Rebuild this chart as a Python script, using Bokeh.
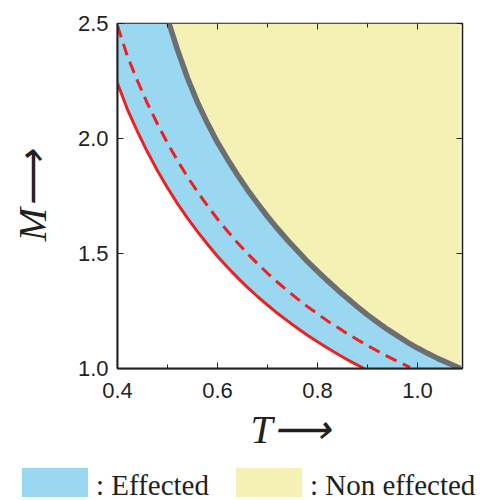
from bokeh.plotting import figure
from bokeh.layouts import column
from bokeh.models import LinearAxis, FixedTicker, NumeralTickFormatter, Range1d, Div
from bokeh.embed import file_html
from bokeh.resources import INLINE

# axis limits / ticks
T_MIN, T_MAX = 0.4, 1.09
M_MIN, M_MAX = 1.0, 2.5
x_ticks = [0.4, 0.6, 0.8, 1.0]
x_minor = [0.5, 0.7, 0.9]
y_ticks = [1.0, 1.5, 2.0, 2.5]

# gray boundary (effected / non effected)
gray_T = [0.503, 0.52, 0.54, 0.56, 0.58, 0.60, 0.62, 0.64, 0.66, 0.68, 0.70, 0.72,
          0.74, 0.76, 0.78, 0.80, 0.82, 0.84, 0.86, 0.88, 0.90, 0.92, 0.94, 0.96,
          0.98, 1.00, 1.02, 1.04, 1.06, 1.086]
gray_M = [2.500, 2.385, 2.263, 2.157, 2.066, 1.983, 1.910, 1.841, 1.777, 1.718,
          1.661, 1.608, 1.558, 1.511, 1.465, 1.423, 1.382, 1.342, 1.305, 1.268,
          1.233, 1.201, 1.170, 1.142, 1.114, 1.089, 1.066, 1.044, 1.025, 1.000]

# red solid curve
red_T = [0.40, 0.42, 0.44, 0.46, 0.48, 0.50, 0.52, 0.54, 0.56, 0.58, 0.60, 0.62,
         0.64, 0.66, 0.68, 0.70, 0.72, 0.74, 0.76, 0.78, 0.80, 0.82, 0.84, 0.86,
         0.88, 0.893]
red_M = [2.240, 2.126, 2.030, 1.941, 1.860, 1.786, 1.717, 1.654, 1.595, 1.540,
         1.488, 1.440, 1.395, 1.353, 1.313, 1.276, 1.240, 1.207, 1.175, 1.145,
         1.116, 1.089, 1.063, 1.038, 1.015, 1.000]

# red dashed curve
dash_T = [0.40, 0.42, 0.44, 0.46, 0.48, 0.50, 0.52, 0.54, 0.56, 0.58, 0.60, 0.62,
          0.64, 0.66, 0.68, 0.70, 0.72, 0.74, 0.76, 0.78, 0.80, 0.82, 0.84, 0.86,
          0.88, 0.90, 0.92, 0.94, 0.96, 0.985]
dash_M = [2.490, 2.357, 2.250, 2.152, 2.063, 1.980, 1.904, 1.833, 1.768, 1.707,
          1.650, 1.597, 1.547, 1.500, 1.456, 1.414, 1.375, 1.338, 1.303, 1.269,
          1.238, 1.207, 1.179, 1.151, 1.125, 1.100, 1.076, 1.053, 1.031, 1.005]

# legend
legend_labels = [": Effected", ": Non effected"]

BLUE = "#99D8F0"
YELLOW = "#F5F1B4"
GRAY = "#6D6E71"
RED = "#ED2024"
INK = "#231F20"
legend_colors = [BLUE, YELLOW]

FONT = "Liberation Sans"
SERIF = "Liberation Serif"

p = figure(frame_width=345, frame_height=345,
           min_border_left=117, min_border_right=26, min_border_top=23,
           min_border_bottom=95,
           x_range=Range1d(T_MIN, T_MAX), y_range=Range1d(M_MIN, M_MAX),
           output_backend="svg", toolbar_location=None)
p.xgrid.visible = False
p.ygrid.visible = False
p.background_fill_color = "white"
p.border_fill_color = "white"
p.outline_line_color = INK
p.outline_line_width = 1.5
p.outline_line_alpha = 1.0

# non effected region (above gray curve)
p.varea(x=gray_T, y1=gray_M, y2=M_MAX, fill_color=YELLOW)
# effected region (below gray curve), then white below the red solid curve
p.patch(x=[T_MIN] + gray_T + [T_MIN], y=[M_MAX] + gray_M + [M_MIN],
        fill_color=BLUE, line_color=None)
p.patch(x=red_T + [T_MIN], y=red_M + [M_MIN], fill_color="white", line_color=None)

p.line(dash_T, dash_M, line_color=RED, line_width=3, line_dash="12 7")
p.line(red_T, red_M, line_color=RED, line_width=3)
p.line(gray_T, gray_M, line_color=GRAY, line_width=5.5)

xa = p.xaxis[0]
xa.ticker = FixedTicker(ticks=x_ticks, minor_ticks=x_minor)
xa.formatter = NumeralTickFormatter(format="0.0")
ya = p.yaxis[0]
ya.ticker = FixedTicker(ticks=y_ticks, minor_ticks=[])
ya.formatter = NumeralTickFormatter(format="0.0")

for ax in (xa, ya):
    ax.axis_line_color = INK
    ax.axis_line_width = 2
    ax.major_tick_in = 6
    ax.major_tick_out = 0
    ax.minor_tick_in = 4
    ax.minor_tick_out = 0
    ax.major_tick_line_color = INK
    ax.minor_tick_line_color = INK
    ax.major_label_text_font = FONT
    ax.major_label_text_font_size = "22px"
    ax.major_label_text_color = INK
    ax.axis_label_text_font = SERIF
    ax.axis_label_text_font_style = "italic"
    ax.axis_label_text_font_size = "40px"
    ax.axis_label_text_color = INK

xa.axis_label = "T\u27f6"
ya.axis_label = "M\u27f6"
xa.major_label_standoff = 14
ya.major_label_standoff = 9
xa.axis_label_standoff = 6
ya.axis_label_standoff = 20

for loc, tick, minor in (("above", x_ticks, x_minor), ("right", y_ticks, [])):
    a = LinearAxis(ticker=FixedTicker(ticks=tick, minor_ticks=minor))
    a.axis_line_color = None
    a.major_tick_in = 6
    a.major_tick_out = 0
    a.minor_tick_in = 4
    a.minor_tick_out = 0
    a.major_tick_line_color = INK
    a.minor_tick_line_color = INK
    a.major_label_overrides = {t: "" for t in tick}
    a.major_label_standoff = 0
    p.add_layout(a, loc)

# legend strip below the chart (HTML)
box_left = [22, 236]
parts = []
for lbl, col, bx in zip(legend_labels, legend_colors, box_left):
    parts.append(
        f'<div style="position:absolute;left:{bx}px;top:5px;width:66px;height:29px;'
        f'background:{col};"></div>'
        f'<div style="position:absolute;left:{bx + 74}px;top:8px;height:29px;'
        f'line-height:29px;white-space:nowrap;">{lbl}</div>'
    )
html = (f'<div style="position:relative;width:488px;height:37px;'
        f'font-family:\'{SERIF}\';font-size:29px;color:{INK};">'
        + "".join(parts) + '</div>')
leg = Div(text=html, width=488, height=37, margin=0)

layout = column(p, leg, spacing=0)
open("out.html", "w").write(file_html(layout, INLINE))
